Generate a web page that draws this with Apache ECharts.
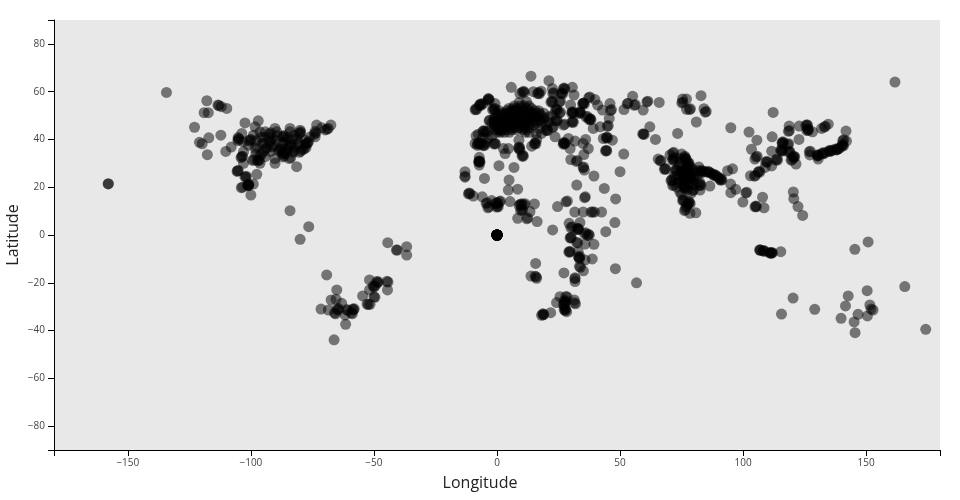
<!DOCTYPE html>
<html><head><meta charset="utf-8">
<style>html,body{margin:0;background:#fff}#c{width:960px;height:500px}</style>
<script src="https://cdn.jsdelivr.net/npm/echarts@6/dist/echarts.min.js"></script>
</head><body><div id="c"></div>
<script>
// each entry: [longitude, latitude]
const northAmerica = [[-134.3,59.7],[-157.9,21.5],[-158,21.4],[-117.9,56.2],[-119,51.2],[-117.3,51.2],[-113.4,54.4],[-113,54.2],[-112,53.7],[-109.8,53],[-122.9,45.1],[-120.9,38.8],[-119.8,38.2],[-117.1,40.7],[-112.2,41.8],[-117.7,33.6],[-110.2,35],[-108,36.8],[-102.4,46.9],[-97,47.8],[-98.3,45.3],[-103.7,42.5],[-90.2,44.6],[-84.1,44.6],[-80,43.9],[-80.3,42.5],[-79.8,43.2],[-80,42.8],[-73.3,46],[-67.5,46],[-69.8,44],[-69,44.3],[-68.6,44.6],[-71.2,44.9],[-74.2,42.2],[-73.6,42.8],[-73.9,43.4],[-73.9,41.1],[-77.8,37.8],[-77,38.4],[-76.6,39],[-77.2,38.6],[-78.4,36],[-77.6,36.6],[-79,35.8],[-81.4,28.6],[-90.2,30],[-96.3,30],[-97.4,31],[-97,31.6],[-96.6,31.2],[-99.3,31.2],[-98.8,31.6],[-103,30],[-104,32.4],[-103.4,33],[-103.7,32.8],[-103,34.9],[-105.3,39.5],[-105,40.3],[-104.9,40],[-105.2,40.8],[-100.8,39.4],[-100.3,39.8],[-100,40],[-96.3,43.2],[-94.2,43.2],[-92.4,42.3],[-92,42.8],[-89.5,43.2],[-87.2,41.2],[-86.6,41.6],[-86.4,41.1],[-84.1,43.2],[-101,37.6],[-98.3,36.3],[-95.3,38.1],[-94.6,38.6],[-94,36.2],[-93.4,36.6],[-91.4,36.8],[-90.8,37.4],[-88.8,35.4],[-88.3,36.1],[-87.8,35.2],[-87.4,36],[-87.2,33.9],[-86.8,34.5],[-86.2,34],[-85.8,34.7],[-84.4,37.4],[-84,38],[-83.6,37.2],[-82.9,34.6],[-82.4,35.2],[-84.4,32],[-83.8,32.4],[-87,32.7],[-86.5,33.1],[-90.2,32],[-94.2,32.8],[-96.2,33.4],[-95.6,33.9],[-80.3,34.6],[-79.7,35.1],[-78,39.7],[-80.9,38.1],[-80.5,38.6],[-92.4,38.8],[-92,39.3],[-89.8,39.5],[-87.2,38.1],[-86.6,38.6],[-99,41.8],[-94.9,40.8],[-97.6,37],[-103.1,39],[-91,40.5],[-92.8,40.9],[-89.3,41.6],[-85.6,39.8],[-84.8,40.7],[-83,40.2],[-82.4,41.6],[-81.2,40.2],[-92,35],[-85,35.8],[-82.5,36.6],[-98,39.5],[-96,41],[-98,34],[-95,35],[-76,41],[-105.6,26.6],[-105.1,27],[-105.4,26.9],[-102.4,24.2],[-101.9,24.6],[-102,24.3],[-97.6,25.4],[-101.3,20.6],[-100.8,21.2],[-101,20.9],[-101.2,21.1],[-100.9,20.7],[-103.9,19.8],[-103.4,20],[-99,21.3],[-100,16.7],[-84.1,10.2],[-76.5,3.5],[-80,-1.8]];
const southAmerica = [[-44.4,-3.2],[-40.9,-6.3],[-40.5,-6.3],[-36.7,-4.9],[-36.7,-8.4],[-69.2,-16.7],[-65.1,-23],[-67.4,-27.2],[-65.4,-26.9],[-63.1,-28.6],[-71.5,-31],[-68.5,-31.4],[-65,-31],[-64.6,-31.4],[-64.3,-30.8],[-66,-32.6],[-65.6,-33],[-61.7,-33.5],[-61.5,-37.4],[-66.2,-43.9],[-61,-31.2],[-60.6,-31.6],[-58.6,-31],[-58.3,-31.3],[-58,-30.9],[-59.2,-32.6],[-58.8,-33],[-51.8,-18.8],[-48.9,-19.5],[-48.5,-20],[-48.2,-19.6],[-44.7,-19.4],[-44.3,-19.7],[-44.5,-23],[-50.3,-21.4],[-49.9,-21.8],[-49.6,-21.3],[-51.8,-23],[-54.6,-25.5],[-50,-25.9],[-49.6,-26.1],[-52.8,-28.9],[-52.3,-29.1],[-51.6,-29]];
const africa = [[-13,24.2],[-13,24.6],[-13,26.5],[-5.1,23.7],[4.9,23],[4.6,18.8],[8.4,19.2],[-11.6,17.2],[-11.3,17.6],[-11,17.3],[-9.6,16.3],[-6,16],[-4.4,13.2],[-4,13.5],[-3.7,11.4],[-3.3,11.8],[-.5,13.1],[-.1,13.6],[.3,13.2],[-.2,11.7],[.2,12.1],[.5,11.8],[-2.2,14.4],[1,13.9],[1.4,14.2],[5.3,14],[9,12.4],[9.4,12.9],[9.8,12.6],[10.1,13.1],[9.6,10.3],[10,10.7],[10.4,10.4],[11,12.7],[11.4,13.1],[8.4,7],[12.1,6.8],[12.5,7.2],[13.4,9.8],[15.2,13],[16.3,5.6],[22.6,2.1],[24.6,11.9],[28,13.9],[28.6,14.2],[32.4,20.9],[39.4,24.7],[35.6,15.6],[35.9,16],[43.6,19.5],[48.2,15.1],[50,26.5],[31.6,9.6],[35,9.6],[38.2,9.6],[38.8,9.6],[39.6,9.6],[42.5,9.6],[29.3,4.9],[30,3.1],[30.6,3.4],[32.4,2.3],[32.8,2.8],[33.2,2.3],[33,2.6],[33.7,5.2],[36.8,-.2],[37.2,.3],[37.5,-.1],[35.6,.5],[36,.9],[29.7,-1.3],[30,-.9],[30.2,-1.2],[32.4,-3.1],[32.8,-3.3],[35.8,-3.8],[39.4,-3.9],[47.9,5.2],[44.2,1.4],[29.2,-7.2],[29.5,-6.8],[29.7,-7.1],[33,-9],[33.4,-9.5],[33.7,-9.1],[33.5,-9.9],[33,-7],[35.8,-10.5],[38.7,-10],[33.5,-13.1],[33.9,-13.5],[35.1,-15],[48.1,-14.1],[56.7,-20],[27.2,-15.9],[31.7,-17.9],[31.7,-18.3],[31.7,-19.5],[15.7,-11.9],[13.8,-17.2],[15.5,-17.3],[15.9,-17.5],[16.1,-18.1],[28,-25.7],[28.5,-26],[27.3,-27.6],[27.8,-28],[28,-27.5],[27.5,-28.3],[25.6,-25.8],[24.2,-28.3],[31.4,-27.2],[31.5,-28.4],[31.9,-28.8],[27.3,-31.2],[27.7,-31.6],[27.9,-31.2],[27.6,-30.7],[27,-29.1],[27.4,-29.5],[28.3,-32.1],[21.8,-32.5],[18.6,-33],[19,-33.2],[18.8,-33.4],[18.1,-33.6]];
const europe = [[13.8,66.5],[21.1,64.6],[5.8,61.8],[10.4,59.8],[10.8,60.2],[11.1,59.7],[9.3,59.2],[14.8,60],[16.5,59.2],[16.9,59.6],[17.2,59.1],[17.9,60.2],[22.5,61.3],[26.9,61.2],[27.3,61.5],[27.6,61.1],[30.6,61.8],[31.3,58.6],[22.7,59.2],[23.1,59.5],[26,59.2],[26.4,59.5],[26.7,59.1],[21.9,55.6],[22.3,56],[22.6,55.5],[25.4,55.7],[25.8,56],[29.9,54.4],[34.8,54.9],[35.2,55.3],[35.5,54.8],[35,55.1],[37.3,57.5],[37.7,57.8],[39.8,56.7],[40.9,54.4],[-3.7,56.5],[-3.4,56.9],[-3.1,56.5],[-3.5,57.1],[-7.2,54.2],[-6.9,54.7],[-6.5,54.3],[-6.6,54.8],[-5.6,55],[-8.9,52.4],[-8.6,52.8],[-8.3,52.5],[-1.8,52.4],[-1.4,52.9],[-1.1,52.4],[-.8,53],[-.8,55],[-5.8,43.3],[-5.4,43.7],[-5.1,43.3],[-4.4,43.4],[-3.8,43.3],[-7.6,42.2],[-7.9,38.1],[-7.5,38.5],[-7.2,38.1],[-7,38.6],[-6.6,38.2],[-5.7,37.4],[-5.3,37.8],[-5,37.5],[-1.3,38.1],[-.9,38.5],[-.6,38.1],[-8.9,38.3],[-3.2,47.8],[-1.3,48.4],[-1.2,46],[-.8,46.5],[.8,44],[1.2,44.5],[1.6,43.7],[1,49],[3,48],[7,52],[9.5,54],[11,54],[13,54],[7,54],[4.8,53],[6.5,53],[8,53],[10,53],[12,53],[14,53],[1,52],[4,52],[5.5,52],[7,52.2],[8.5,52],[10.5,52],[13,52],[15.5,52],[17,52],[0,51],[2,51],[3.5,51],[5,51],[7,51],[9,51],[11,51],[13.5,51],[15,51],[17,51],[19,51],[1.5,50],[3,50],[4.5,50],[6,50],[8,50],[10,50],[12,50],[14,50],[16,50],[18,50],[-1,49],[.5,49],[2.3,49],[4,49],[6,49],[8,49],[9.5,49],[11.5,49],[13.5,49],[15.5,49],[17,49],[19,49],[-3,48],[-1,48],[1,48],[3,48.2],[5,48],[7,48],[9,48],[11,48],[13,48],[15,48],[17,48],[19,48],[-2,47],[0,47],[2,47],[4,47],[6,47],[8,47],[10,47],[12,47],[14,47],[16,47],[18,47],[-1,46],[1,46],[3,46],[5,46],[7,46],[9,46],[11,46],[13,46],[15,46],[0,45],[2,45],[4,45],[6,45],[7.5,45],[9,45],[11,45],[13,45],[-1,44],[1,44],[2.5,44],[4.5,44],[6,44],[8,44],[10.5,44],[12,44],[0,43],[1.5,43],[3,43],[5,43],[11.5,43],[13,43],[2.6,36.2],[4.6,36.2],[3.3,34.1],[8.9,39.7],[8.7,36.4],[9,36.8],[9.2,36.4],[10.2,33],[10.5,33.4],[10.7,33],[9.3,35.5],[14.1,37.2],[15.2,38.1],[15.5,38.5],[15.8,38.2],[16.1,40],[18.1,42.5],[20,43.7],[20.3,44.1],[20.6,43.7],[21,47],[22.5,45],[22.9,45.4],[23.6,41.1],[26.9,38],[27.2,38.5],[27.5,38.1],[27,38.7],[27.7,38.5],[29,40.4],[29.7,36.2],[31.7,39.3],[36,40],[35,38.3],[37.1,36.2],[35.3,33.7],[30,31.6],[32.2,30.8],[32.6,31.2],[35,28.1],[35.2,28.5],[35.5,27.2],[-7.2,32.5],[-7.4,30.5],[-7.1,30.9],[-6.9,30.5],[-7.2,31],[-7.4,30.8],[-7.2,29.3],[.8,29],[6.9,28.3],[23.7,47.8],[24.2,48.2],[24.5,47.8],[25.4,51],[25.8,51.4],[23.8,52.3],[24.2,52.7],[24.5,52.3],[27,46],[27.5,46.4],[30.4,47.2],[30.8,47.6],[31,47.2],[30.3,51],[30.7,51.4],[31,51],[30.6,51.6],[33.4,51],[33.8,51.4],[34,51],[33.6,51.6],[37.5,48.2],[37.9,48.6],[38.2,48.2],[37.8,48.7],[36.2,49.4],[36.6,49.7],[39.1,44.6],[41.9,45.3],[45.6,48.8],[44.8,45.5],[45.2,45.8],[43.2,40.4],[44.4,40.7],[44.7,41],[44.9,40.6],[46.9,39.7],[44.1,35.2],[44.4,35.5],[44.6,35.2],[51.5,33.9],[42.9,52.3],[45.9,55],[46.1,52.1],[46.5,52.5],[51.6,52.5],[52.9,54.9],[53.3,55.2],[55.1,58.1],[55.8,54.3],[56.2,54.6],[21,49.5],[20,46],[17,44.5],[16,42.5],[22.5,50],[9,55.5],[12,55.8],[-6,40.5],[-3.7,40.4],[-2,41.5],[-8.5,41.5],[-8,37.5],[-4.5,38.8]];
const asia = [[60.9,55.7],[61.3,56],[59.4,52.3],[65.9,55.5],[75.4,56.9],[77,56.9],[75.1,55.3],[75.5,55.6],[77,52.6],[78.2,52.5],[78.6,52.8],[82.9,58.3],[84.1,52.9],[84.6,51.4],[85,51.7],[81,47.3],[95,44.9],[102.4,43.1],[105.6,39.7],[111.8,41.1],[112.2,51.3],[118.7,45.6],[118.4,43.4],[118.8,43.7],[122.8,45.6],[125.5,45.8],[125.9,46.2],[126.2,45.9],[125.9,43.7],[126.3,44.2],[126.6,43.8],[126.3,44.4],[128.2,43.2],[131.9,44.6],[133,45.2],[133.4,45.5],[134.6,46.4],[141.8,43.5],[140.5,39.5],[140.9,39.9],[142,39.3],[140.1,37.2],[140.5,37.6],[140.8,37.3],[140.3,37.9],[139,36.2],[138.2,35.7],[137.6,36],[138.4,36.1],[137.9,35.6],[136.5,35.6],[135.7,35.2],[135.2,35.5],[134.8,35.1],[135.4,35],[133.2,34.4],[132.7,34],[132.3,34.4],[132,34],[130.6,33.5],[130.3,33],[130,33.5],[130.4,33.2],[126.9,34.8],[127.3,35.1],[127.1,33.5],[130.5,31.8],[122.7,40],[115.8,38.6],[116.1,39],[116.4,38.7],[116,38.2],[118.1,37.9],[118.5,38.2],[115.4,35.1],[115.8,35.6],[116,35.2],[115.3,35.6],[118.4,34.7],[118.8,35.1],[119,34.7],[120.3,32.6],[120.7,33],[121,32.7],[120.5,32.4],[119.5,31.3],[119.9,31.6],[121.5,29.7],[111.6,35.1],[103.4,35.9],[105.3,32.7],[105.7,33],[104.8,31.8],[109.2,30.5],[109.6,30.9],[109.9,30.5],[113.3,31.4],[113.7,31.8],[114,31.4],[111.6,28.9],[108.9,28.3],[106.1,26.3],[106.5,26.7],[106.8,26.3],[104.6,24.6],[105,24.9],[103,24.8],[93.7,26.9],[95.7,27.7],[94.9,21.3],[97,19.1],[95,17.7],[101.1,17.6],[101.5,17.9],[99.9,13.8],[104.8,11.8],[105.2,12.1],[105.4,11.8],[107.9,15.8],[108.5,11.4],[120.4,18],[120.6,15.2],[122.3,11.9],[124.2,8.2],[161.7,64],[59.2,42.2],[59.5,42.4],[59.8,42.1],[62.1,45.3],[64.4,40],[73.4,42.5]];
const india = [[65.5,31.8],[66.3,31],[66.7,31.2],[68,27.5],[68.3,27.9],[68.6,27.5],[70.3,33.5],[71.4,34.2],[71.8,34.6],[71.3,31.4],[71.6,31.8],[71.9,31.4],[72,32.4],[75,33.9],[76,32],[76.4,32.4],[76.8,32],[76.3,33],[76.7,31.5],[77.3,30],[77.7,30.4],[78.1,30],[77.6,29.5],[78,28.9],[76.7,27.8],[77,28.2],[77.4,27.8],[76.8,27.2],[77.8,27.2],[74.7,26.3],[75.1,26.7],[75.4,26.3],[75,25.4],[72.4,27],[72.8,27.4],[73,27],[70.7,22.8],[71,23.2],[71.4,22.8],[71.4,20.7],[71.8,21.1],[75.4,22.8],[75.7,23.2],[76.1,22.8],[75.6,24],[75.8,20],[76.1,20.4],[76.5,20],[76,21],[76.4,19.4],[74.3,18.1],[78.2,23.5],[78.5,23.9],[78.8,23.5],[82.2,20.7],[82.5,21.2],[82.9,20.8],[82.4,22],[82.5,18.8],[79.5,18.6],[79.9,19],[79,21],[80,23],[80.5,25],[79,26],[81,27],[82.7,26.7],[83.1,27.1],[83.5,26.7],[83,26],[84.5,26.5],[85.4,26.3],[85.8,26.7],[86.2,26.3],[86.8,26],[87.5,25.5],[88.2,24.9],[88.5,25.3],[88.9,24.9],[89.5,24.5],[90.6,23.2],[91,23.6],[91.4,23.2],[91,22.9],[90,24],[86.5,20.5],[75.4,14.4],[75.7,14.8],[76,14.4],[77.7,13.1],[78.1,13.5],[78.5,13.1],[78,14],[77.3,13],[76.2,10.2],[76.6,10.6],[78.4,9.1],[80.8,9.3],[76.8,11.8],[77.2,12.2],[74,29],[75,28.5],[73.5,25],[72,24.5],[74,23],[73,20],[73.5,22],[78,25.5],[79.5,24],[81.5,25],[77,24.5],[74.5,30.5],[74,32],[79,28],[80,26.8],[82,28.5],[80,21],[78,21.5],[77.5,19],[79,17.5],[75,17]];
const oceania = [[106.7,-6.2],[106.9,-6.4],[107.1,-6.3],[108.2,-6.6],[108.5,-6.8],[108.7,-6.6],[110.7,-7.4],[111,-7.6],[111.2,-7.4],[111.5,-7.6],[111.7,-7.3],[111.9,-7.5],[115.3,-7],[145.4,-6],[150.8,-2.9],[165.7,-21.6],[120.3,-26.4],[115.6,-33.1],[129.1,-31.1],[150.4,-23.3],[142.7,-25.5],[141.6,-29.7],[151.5,-29.3],[152.8,-31.4],[152,-31],[146.7,-33.2],[150.5,-33.9],[139.8,-34.9],[145.1,-36.4],[145.5,-40.9],[174.2,-39.5]];
const nullIsland = [0,0];
const nullIslandRecords = 20;

const xTicks = [-180,-150,-100,-50,0,50,100,150,180];
const xLabels = [-150,-100,-50,0,50,100,150];
const yTicks = [-90,-80,-60,-40,-20,0,20,40,60,80,90];
const yLabels = [-80,-60,-40,-20,0,20,40,60,80];

const points = [].concat(northAmerica, southAmerica, africa, europe, asia, india, oceania);
for (let i = 0; i < nullIslandRecords; i++) points.push(nullIsland);

const fmt = v => String(v).replace('-', '\u2212');
const font = '"Open Sans"';
const axisCommon = {
  type: 'value', nameLocation: 'middle', nameMoveOverlap: false,
  splitLine: {show: false},
  axisLine: {show: true, onZero: false, lineStyle: {color: '#000', width: 1}},
};
const chart = echarts.init(document.getElementById('c'), null, {renderer: 'canvas'});
chart.setOption({
  animation: false,
  backgroundColor: '#fff',
  grid: {left: 54, right: 20, top: 20, bottom: 50, show: true, backgroundColor: '#e8e8e8', borderWidth: 0, outerBoundsMode: 'none'},
  xAxis: Object.assign({}, axisCommon, {
    name: 'Longitude', nameGap: 25, min: -180, max: 180,
    nameTextStyle: {fontFamily: font, fontSize: 16, color: '#222', padding: [0, 34, 0, 0]},
    axisTick: {show: true, length: 6, customValues: xTicks, lineStyle: {color: '#000', width: 1}},
    axisLabel: {customValues: xLabels, formatter: fmt, fontFamily: font, fontSize: 10, color: '#444', margin: 8},
  }),
  yAxis: Object.assign({}, axisCommon, {
    name: 'Latitude', nameGap: 33, min: -90, max: 90,
    nameTextStyle: {fontFamily: font, fontSize: 16, color: '#222'},
    axisTick: {show: true, length: 6, customValues: yTicks, lineStyle: {color: '#000', width: 1}},
    axisLabel: {customValues: yLabels, formatter: fmt, fontFamily: font, fontSize: 10, color: '#444', margin: 9},
  }),
  series: [{
    type: 'scatter', data: points, symbol: 'circle', symbolSize: 11,
    large: false, progressive: 0,
    itemStyle: {color: '#000', opacity: 0.5, borderWidth: 0},
    emphasis: {disabled: true},
  }],
});
</script></body></html>
